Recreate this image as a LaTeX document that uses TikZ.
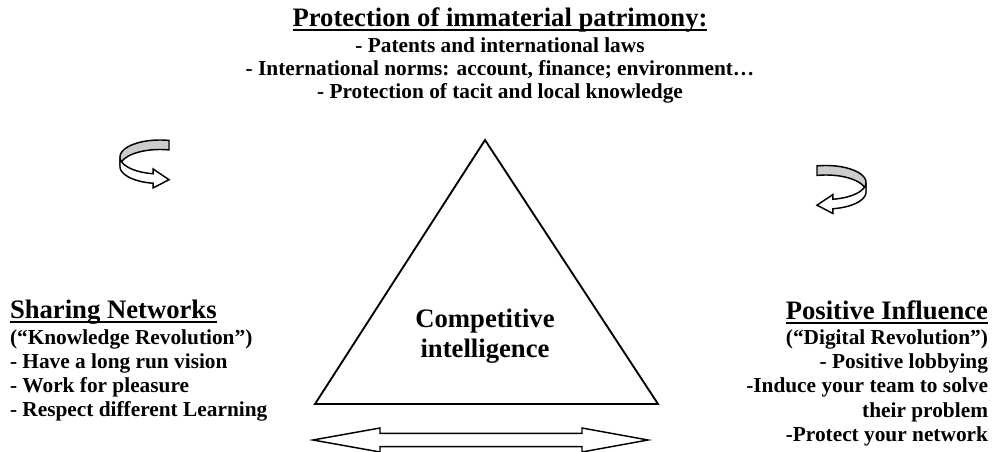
\documentclass[tikz,border=0pt]{standalone}
\usepackage{fontspec}
\setmainfont{Liberation Serif}
% underline set just below the baseline, crossing the descenders
\newcommand\headrule[1]{\setbox0=\hbox{#1}\rlap{\vrule width\wd0 height -1.4pt depth 2.9pt}\box0}
\tikzset{
  outline/.style={draw=black, line width=1.1pt, line join=miter},
  % U-turn ribbon arrow: grey back band, white front band with head
  uturn/.pic={
    \filldraw[outline, fill=gray!40]
      plot[domain=77:180, samples=40] ({40*cos(\x)},{-17*sin(\x)})
      -- plot[domain=180:77, samples=40] ({40*cos(\x)},{-17*sin(\x)+9.5})
      -- cycle;
    \filldraw[outline, fill=white]
      plot[domain=180:260, samples=40] ({40*cos(\x)},{-17*sin(\x)})
      -- (-6.95,11.99) -- (9.0,22.7) -- (-6.95,30.99)
      -- plot[domain=260:180, samples=40] ({40*cos(\x)},{-17*sin(\x)+9.5})
      -- cycle;
  }
}
\begin{document}
\begin{tikzpicture}[x=0.75pt, y=-0.75pt,
  every node/.style={inner sep=0pt, outer sep=0pt},
  headtext/.style={font=\fontsize{20}{24}\selectfont\bfseries},
  bodytext/.style={font=\fontsize{16}{19}\selectfont\bfseries}]
\useasboundingbox (0,0) rectangle (992,452);

% top block
\node[headtext, anchor=base] (toptitle) at (500,27) {\headrule{Protection of immaterial patrimony:}};
\node[bodytext, anchor=base] (top1) at (500,53) {- Patents and international laws};
\node[bodytext, anchor=base] (top2) at (500,76) {- International norms: account, finance; environment…};
\node[bodytext, anchor=base] (top3) at (500,99) {- Protection of tacit and local knowledge};

% left block
\node[headtext, anchor=base west] (lefttitle) at (10,319) {\headrule{Sharing Networks}};
\node[bodytext, anchor=base west] (left1) at (10,344) {(“Knowledge Revolution”)};
\node[bodytext, anchor=base west] (left2) at (10,368) {- Have a long run vision};
\node[bodytext, anchor=base west] (left3) at (10,392) {- Work for pleasure};
\node[bodytext, anchor=base west] (left4) at (10,416) {- Respect different Learning};

% right block
\node[headtext, anchor=base east] (righttitle) at (988,320) {\headrule{Positive Influence}};
\node[bodytext, anchor=base east] (right1) at (988,344) {(“Digital Revolution”)};
\node[bodytext, anchor=base east] (right2) at (988,368) {- Positive lobbying};
\node[bodytext, anchor=base east] (right3) at (988,392) {-Induce your team to solve};
\node[bodytext, anchor=base east] (right4) at (988,417) {their problem};
\node[bodytext, anchor=base east] (right5) at (988,441) {-Protect your network};

% triangle with its centre label
\coordinate (apex) at (485,140);
\coordinate (baseleft) at (315,404);
\coordinate (baseright) at (658,404);
\draw[line width=1.4pt, line join=miter] (apex) -- (baseright) -- (baseleft) -- cycle;
\node[headtext, anchor=base] (centre1) at (485,327) {Competitive};
\node[headtext, anchor=base] (centre2) at (485,357) {intelligence};

% double-headed block arrow under the triangle
\coordinate (dleft) at (313,440);
\coordinate (dright) at (648,440);
\filldraw[outline, fill=white]
  (dleft) -- ++(67,-12) -- ++(0,5.3) -- ++(202,0) -- ++(0,-5.3)
  -- (dright) -- ++(-66,12) -- ++(0,-5.3) -- ++(-202,0) -- ++(0,5.3) -- cycle;

% rotating arrows
\pic (leftturn) at (160,157) {uturn};
\pic[xscale=-1] (rightturn) at (826,182.5) {uturn};
\end{tikzpicture}
\end{document}
